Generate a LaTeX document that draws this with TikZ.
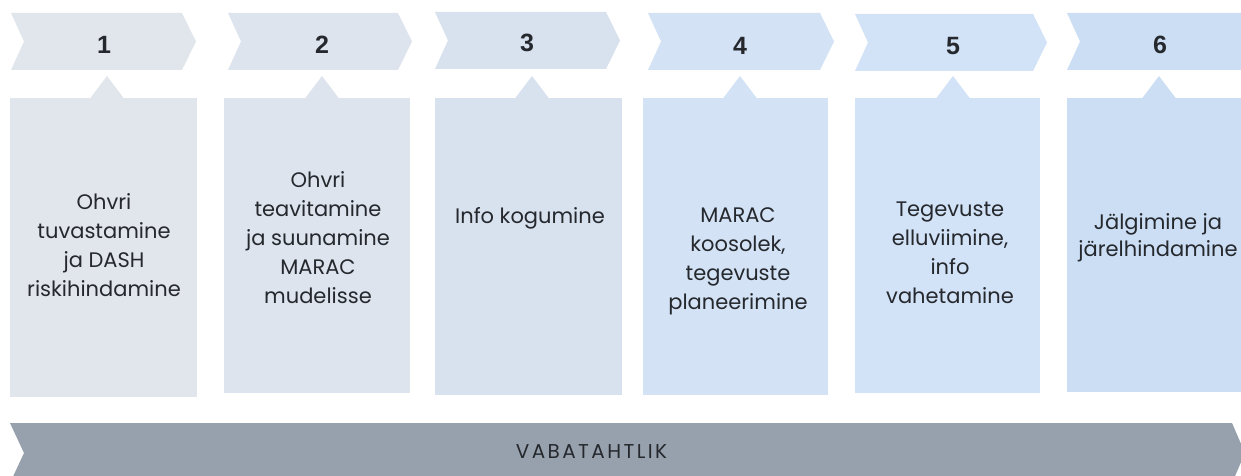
\documentclass[tikz,border=0pt]{standalone}
\usepackage{fontspec}
\newfontfamily\boxfont{Poppins}
\newfontfamily\numfont{Liberation Sans}
\newfontfamily\barfont[LetterSpace=12]{Poppins}
\definecolor{c1}{HTML}{E1E6EC}
\definecolor{c2}{HTML}{DDE4EE}
\definecolor{c3}{HTML}{D8E1EE}
\definecolor{c4}{HTML}{D3E2F5}
\definecolor{c5}{HTML}{D2E2F7}
\definecolor{c6}{HTML}{CBDEF4}
\definecolor{barcol}{HTML}{97A1AD}
\definecolor{txt}{HTML}{25282D}
\newcommand\mychev[4]{% color, left, right, top
  \fill[#1] (#2,#4) -- (#3,#4) -- ({#3+14},{#4+28.5}) -- (#3,{#4+57}) -- (#2,{#4+57}) -- ({#2+13},{#4+28.5}) -- cycle;}
\newcommand\mybox[5]{% color, left, right, bottom, apex x
  \fill[#1] (#2,98) rectangle (#3,#4);
  \fill[#1] ({#5-17},98.5) -- (#5,76) -- ({#5+17},98.5) -- cycle;}
\begin{document}
\begin{tikzpicture}[x=1pt,y=-1pt,
  lbl/.style={font=\boxfont\fontsize{21}{29}\selectfont, text=txt, align=center, inner sep=0pt},
  num/.style={font=\numfont\bfseries\fontsize{25}{27}\selectfont, text=txt, inner sep=0pt},
  barlbl/.style={font=\barfont\fontsize{20}{22}\selectfont, text=txt, inner sep=0pt}]
\useasboundingbox (0,0) rectangle (1241,476);
\clip (0,0) rectangle (1241,476);
\fill[white] (0,0) rectangle (1241,476);
% chevrons
\mychev{c1}{11}{182}{13}
\mychev{c2}{228}{398}{13}
\mychev{c3}{435}{606}{12}
\mychev{c4}{648}{820}{13}
\mychev{c5}{855}{1033}{14}
\mychev{c6}{1067}{1260}{13}
% boxes
\mybox{c1}{10}{197}{397}{107}
\mybox{c2}{224}{410}{393}{322}
\mybox{c3}{435}{622}{395}{532}
\mybox{c4}{643}{828}{395}{740}
\mybox{c5}{855}{1040}{393}{953}
\mybox{c6}{1067}{1241}{392}{1159}
% bar
\fill[barcol] (10,423) -- (1232,423) -- (1245,453) -- (1232,483) -- (10,483) -- (24,453) -- cycle;
% numbers
\node[num] (n1) at (104,45) {1};
\node[num] (n2) at (322,45) {2};
\node[num] (n3) at (527,43) {3};
\node[num] (n4) at (740,46) {4};
\node[num] (n5) at (953,46) {5};
\node[num] (n6) at (1160,45) {6};
% texts
\node[lbl] (t1) at (104,245) {Ohvri\\tuvastamine\\ja DASH\\riskihindamine};
\node[lbl] (t2) at (318,238) {Ohvri\\teavitamine\\ja suunamine\\MARAC\\mudelisse};
\node[lbl] (t3) at (530,218) {Info kogumine};
\node[lbl] (t4) at (738,261) {MARAC\\koosolek,\\tegevuste\\planeerimine};
\node[lbl] (t5) at (950,253) {Tegevuste\\elluviimine,\\info\\vahetamine};
\node[lbl, font=\boxfont\fontsize{21}{27}\selectfont] (t6) at (1158,238) {Jälgimine ja\\järelhindamine};
\node[barlbl] (v) at (591.5,452) {VABATAHTLIK};
\end{tikzpicture}
\end{document}
